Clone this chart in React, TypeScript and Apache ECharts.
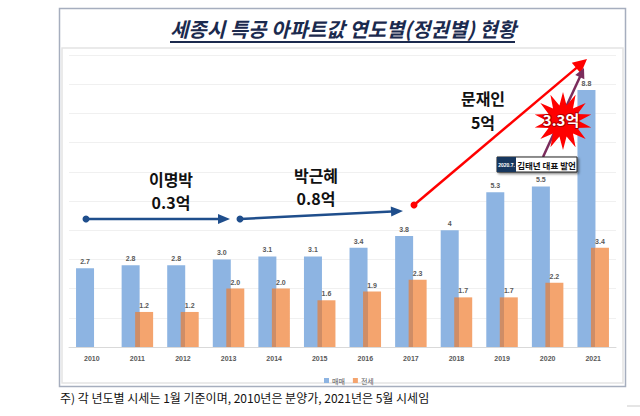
import React, { useEffect, useRef } from "react";
import * as echarts from "echarts";

const years = ["2010", "2011", "2012", "2013", "2014", "2015", "2016", "2017", "2018", "2019", "2020", "2021"];
const saleValues = [2.7, 2.8, 2.8, 3.0, 3.1, 3.1, 3.4, 3.8, 4, 5.3, 5.5, 8.8];
const saleLabels = ["2.7", "2.8", "2.8", "3.0", "3.1", "3.1", "3.4", "3.8", "4", "5.3", "5.5", "8.8"];
const jeonseValues = [null, 1.2, 1.2, 2.0, 2.0, 1.6, 1.9, 2.3, 1.7, 1.7, 2.2, 3.4];
const jeonseLabels = ["", "1.2", "1.2", "2.0", "2.0", "1.6", "1.9", "2.3", "1.7", "1.7", "2.2", "3.4"];
const seriesNames = ["매매", "전세"];
const titleText = "세종시 특공 아파트값 연도별(정권별) 현황";
const footnoteText = "주) 각 년도별 시세는 1월 기준이며, 2010년은 분양가, 2021년은 5월 시세임";

const KR = '"Noto Sans CJK KR", sans-serif';
const NUM = '"Liberation Sans", Arial, sans-serif';

function arrow(x1: number, y1: number, x2: number, y2: number, color: string, len: number, hw: number, width: number) {
  const dx = x2 - x1, dy = y2 - y1;
  const d = Math.hypot(dx, dy);
  const ux = dx / d, uy = dy / d;
  const bx = x2 - ux * len, by = y2 - uy * len;
  return [
    { type: "line", z: 100, shape: { x1, y1, x2: bx + ux * 1, y2: by + uy * 1 }, style: { stroke: color, lineWidth: width } },
    { type: "polygon", z: 100, shape: { points: [[x2, y2], [bx - uy * hw, by + ux * hw], [bx + uy * hw, by - ux * hw]] }, style: { fill: color } },
  ];
}

function starPoints(cx: number, cy: number, R: number, r: number, n: number) {
  const pts: number[][] = [];
  for (let i = 0; i < n * 2; i++) {
    const a = -Math.PI / 2 + (i * Math.PI) / n;
    const rr = i % 2 === 0 ? R : r;
    pts.push([cx + Math.cos(a) * rr, cy + Math.sin(a) * rr]);
  }
  return pts;
}

function bigText(text: string, x: number, y: number) {
  return {
    type: "text", z: 100, x, y,
    style: { text, fill: "#111111", fontSize: 16, fontWeight: "bold", fontFamily: KR, align: "center", verticalAlign: "middle" },
  };
}

export default function App() {
  const ref = useRef<HTMLDivElement>(null);
  useEffect(() => {
    document.body.style.margin = "0";
    const chart = echarts.init(ref.current!, null, { renderer: "svg" });
    const orangeGrad = {
      type: "linear", x: 0, y: 0, x2: 1, y2: 0,
      colorStops: [
        { offset: 0, color: "#CF8D66" },
        { offset: 0.25, color: "#CF8D66" },
        { offset: 0.25, color: "#F4A46E" },
        { offset: 1, color: "#F4A46E" },
      ],
    };
    const labelBase = { show: true, position: "top", distance: 3, fontSize: 7, fontWeight: "bold", color: "#595959", fontFamily: NUM };
    chart.setOption({
      animation: false,
      backgroundColor: "#ffffff",
      grid: { left: 69, right: 24, top: 55, bottom: 69 },
      legend: {
        left: 319, top: 372,
        icon: "rect", itemWidth: 5, itemHeight: 5, itemGap: 8,
        textStyle: { fontSize: 7, color: "#595959", fontFamily: KR, padding: [0, 0, 0, -2] },
        data: [
          { name: seriesNames[0], itemStyle: { color: "#8DB4E2" } },
          { name: seriesNames[1], itemStyle: { color: "#F4A46E" } },
        ],
      },
      xAxis: {
        type: "category",
        data: years,
        axisTick: { show: false },
        axisLine: { lineStyle: { color: "#D9D9D9", width: 1 } },
        axisLabel: { fontSize: 7, fontWeight: "bold", color: "#595959", margin: 8, fontFamily: NUM },
      },
      yAxis: {
        type: "value", min: 0, max: 10, interval: 1,
        axisLabel: { show: false },
        axisLine: { show: false },
        axisTick: { show: false },
        splitLine: { lineStyle: { color: "#F0F0F0", width: 1 } },
      },
      series: [
        {
          name: seriesNames[0], type: "bar", data: saleValues, barWidth: 18, barGap: "-25%",
          itemStyle: { color: "#8DB4E2" },
          label: { ...labelBase, formatter: (p: any) => saleLabels[p.dataIndex] },
        },
        {
          name: seriesNames[1], type: "bar", data: jeonseValues, barWidth: 18, barGap: "-25%",
          itemStyle: { color: orangeGrad },
          label: { ...labelBase, formatter: (p: any) => jeonseLabels[p.dataIndex] },
        },
      ],
      graphic: [
        { type: "rect", z: -1, shape: { x: 59.5, y: 8.5, width: 566, height: 378 }, style: { fill: "none", stroke: "#A6AEBE", lineWidth: 1.5 } },
        { type: "rect", z: -1, shape: { x: 62, y: 48, width: 561, height: 335 }, style: { fill: "none", stroke: "#E4E4E4", lineWidth: 1.5 } },
        { type: "line", z: -1, shape: { x1: 627, y1: 406, x2: 640, y2: 406 }, style: { stroke: "#DDDDDD", lineWidth: 1.5 } },
        {
          type: "text", z: 100, x: 343, y: 28,
          style: { text: titleText, fill: "#1B2A4E", fontSize: 20, fontWeight: "bold", fontStyle: "italic", fontFamily: KR, align: "center", verticalAlign: "middle" },
        },
        { type: "line", z: 100, shape: { x1: 170, y1: 42, x2: 515, y2: 42 }, style: { stroke: "#1B2A4E", lineWidth: 2 } },
        bigText("이명박", 171, 179),
        bigText("0.3억", 171, 202),
        bigText("박근혜", 316, 175),
        bigText("0.8억", 316, 198),
        bigText("문재인", 483, 98),
        bigText("5억", 483, 122),
        ...arrow(86, 219, 230, 219, "#1F4E8C", 12, 5, 2.5),
        { type: "circle", z: 100, shape: { cx: 86, cy: 219, r: 3.5 }, style: { fill: "#1F4E8C" } },
        ...arrow(240, 219, 403, 211, "#1F4E8C", 12, 5, 2.5),
        { type: "circle", z: 100, shape: { cx: 240, cy: 219, r: 3.5 }, style: { fill: "#1F4E8C" } },
        ...arrow(414, 205, 587, 59, "#FF0000", 14, 7, 2.5),
        { type: "circle", z: 100, shape: { cx: 414, cy: 205, r: 3.5 }, style: { fill: "#FF0000" } },
        ...arrow(543, 157, 584, 68, "#7B2C5C", 10, 5, 2.5),
        { type: "polygon", z: 101, shape: { points: starPoints(563, 121, 29, 16, 14) }, style: { fill: "#FF0000" } },
        {
          type: "text", z: 102, x: 561, y: 119,
          style: { text: "3.3억", fill: "#FFFFFF", fontSize: 15, fontWeight: "bold", fontFamily: KR, align: "center", verticalAlign: "middle", stroke: "#B00000", lineWidth: 2 },
        },
        {
          type: "rect", z: 102, shape: { x: 497, y: 157, width: 80, height: 15 },
          style: { fill: "#FFFFFF", stroke: "#222222", lineWidth: 1, shadowBlur: 2, shadowOffsetX: 1.5, shadowOffsetY: 1.5, shadowColor: "rgba(0,0,0,0.5)" },
        },
        { type: "rect", z: 103, shape: { x: 497, y: 157, width: 19, height: 15 }, style: { fill: "#17375E" } },
        {
          type: "text", z: 104, x: 506.5, y: 164.5,
          style: { text: "2020.7.", fill: "#FFFFFF", fontSize: 5, fontWeight: "bold", fontFamily: NUM, align: "center", verticalAlign: "middle" },
        },
        {
          type: "text", z: 104, x: 546.5, y: 164.5,
          style: { text: "김태년 대표 발언", fill: "#111111", fontSize: 8.5, fontWeight: "bold", fontFamily: KR, align: "center", verticalAlign: "middle" },
        },
        {
          type: "text", z: 100, x: 60, y: 397,
          style: { text: footnoteText, fill: "#111111", fontSize: 12, fontFamily: KR, align: "left", verticalAlign: "middle" },
        },
      ],
    });
    return () => chart.dispose();
  }, []);
  return <div ref={ref} style={{ position: "absolute", left: 0, top: 0, width: 640, height: 416 }} />;
}
